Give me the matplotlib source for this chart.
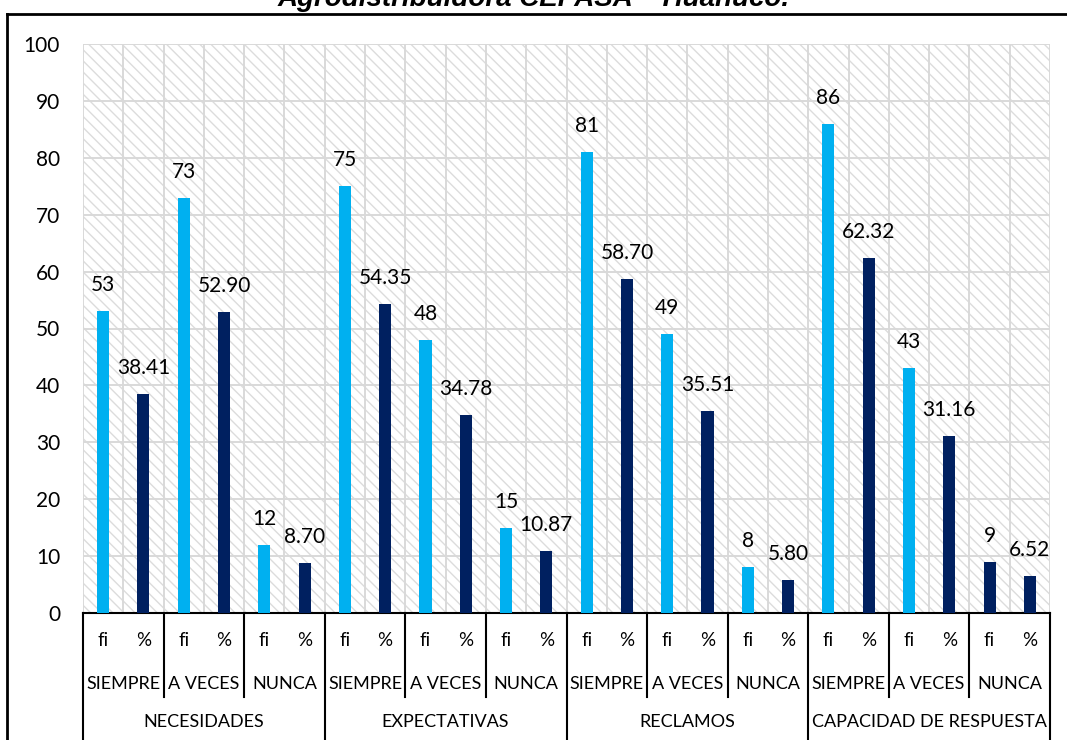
import matplotlib.pyplot as plt
from matplotlib.patches import Rectangle
from matplotlib.lines import Line2D

# datos del grafico
dimensiones = ['NECESIDADES', 'EXPECTATIVAS', 'RECLAMOS', 'CAPACIDAD DE RESPUESTA']
niveles = ['SIEMPRE', 'A VECES', 'NUNCA']
fi = [53, 73, 12, 75, 48, 15, 81, 49, 8, 86, 43, 9]
porcentaje = [38.41, 52.90, 8.70, 54.35, 34.78, 10.87, 58.70, 35.51, 5.80, 62.32, 31.16, 6.52]
fi_color = ['#00B0F0'] * 11 + ['#002060']

W, H = 1067, 740
fig = plt.figure(figsize=(W / 100, H / 100), dpi=100)
fig.patch.set_facecolor('white')

x0, x1, y_top, y_bot = 83, 1050, 44, 613
ax = fig.add_axes([x0 / W, (H - y_bot) / H, (x1 - x0) / W, (y_bot - y_top) / H])
ax_h = y_bot - y_top

# fondo rayado
ax.add_patch(Rectangle((0, 0), 1, 1, transform=ax.transAxes, facecolor='white',
                       edgecolor='#dcdcdc', hatch='\\\\\\', lw=0, zorder=0))

ax.set_xlim(-0.5, 23.5)
ax.set_ylim(0, 100)
ax.set_yticks(range(0, 101, 10))
ax.grid(axis='y', color='#d9d9d9', lw=1.4, zorder=1)
ax.vlines([k - 0.5 for k in range(25)], 0, 100, color='#d9d9d9', lw=1.4, zorder=1)
ax.set_xticks([])
for s in ['top', 'right', 'left']:
    ax.spines[s].set_visible(False)
ax.spines['bottom'].set_color('black')
ax.spines['bottom'].set_linewidth(1.5)
ax.tick_params(axis='y', length=0, pad=16.5, labelsize=15)
for lab in ax.get_yticklabels():
    lab.set_family('Lato')

xs_fi = [2 * i for i in range(12)]
xs_pc = [2 * i + 1 for i in range(12)]
ax.bar(xs_fi, fi, width=0.3, color=fi_color, zorder=3)
ax.bar(xs_pc, porcentaje, width=0.3, color='#002060', zorder=3)

for x, v in zip(xs_fi, fi):
    ax.annotate(str(v), (x, v), xytext=(0, 26), textcoords='offset pixels',
                ha='center', va='center', fontsize=15, family='Lato')
for x, v in zip(xs_pc, porcentaje):
    ax.annotate('%.2f' % v, (x, v), xytext=(0, 26), textcoords='offset pixels',
                ha='center', va='center', fontsize=15, family='Lato')

# etiquetas de categorias en varios niveles
tr = ax.get_xaxis_transform()
for i in range(24):
    ax.text(i, -27 / ax_h, 'fi' if i % 2 == 0 else '%', transform=tr,
            ha='center', va='center', fontsize=13.5, family='Lato')
for j in range(12):
    ax.text(2 * j + 0.5, -71 / ax_h, niveles[j % 3], transform=tr,
            ha='center', va='center', fontsize=13, family='Lato')
for d in range(4):
    ax.text(6 * d + 2.5, -109 / ax_h, dimensiones[d], transform=tr,
            ha='center', va='center', fontsize=13, family='Lato')

for j in range(13):
    xb = 2 * j - 0.5
    y_end = -128 / ax_h if j % 3 == 0 else -84 / ax_h
    ax.add_line(Line2D([xb, xb], [0, y_end], transform=tr, color='black',
                       lw=1.5, clip_on=False))

# marco exterior y titulo
fig.add_artist(Line2D([7 / W, 1], [1 - 14 / H, 1 - 14 / H], color='black', lw=2))
fig.add_artist(Line2D([7 / W, 7 / W], [0, 1 - 14 / H], color='black', lw=2))
fig.text(0.5, 1 - 6 / H, 'Agrodistribuidora CEPASA \u2013 Hu\u00e1nuco.', ha='center',
         va='baseline', fontsize=20, fontweight='bold', fontstyle='italic',
         family='Liberation Sans')

plt.savefig('out.png', dpi=100)
